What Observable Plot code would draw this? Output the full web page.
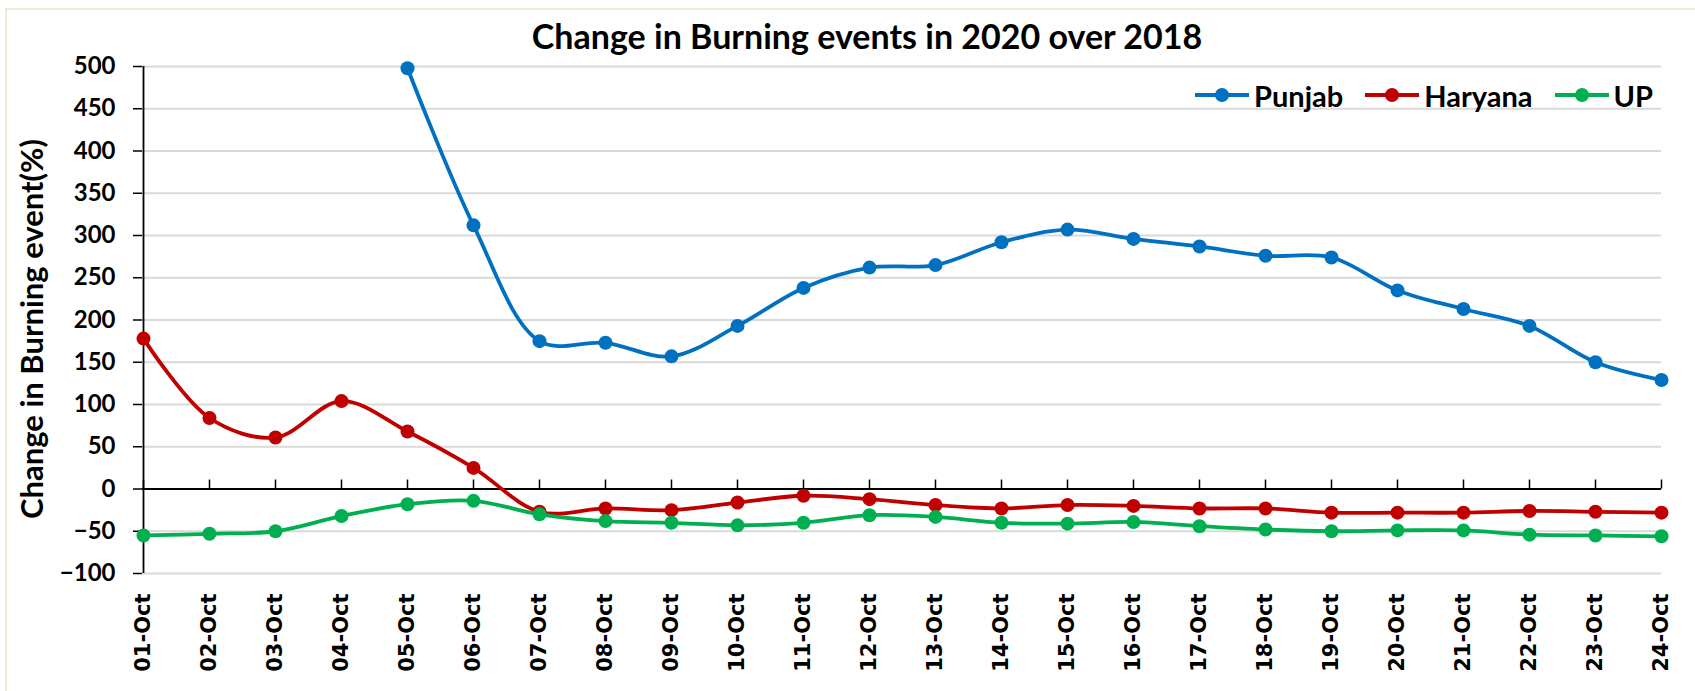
<!DOCTYPE html>
<html>
<head>
<meta charset="utf-8">
<script src="https://cdn.jsdelivr.net/npm/d3@7"></script>
<script src="https://cdn.jsdelivr.net/npm/@observablehq/plot@0.6"></script>
<style>
  html, body { margin: 0; padding: 0; background: #fff; }
  #wrap { position: relative; width: 1695px; height: 691px; overflow: hidden; background: #fff; }
  #chart { position: absolute; left: 0; top: 0; }
  #title { position: absolute; left: 0; width: 1734px; top: 15px; line-height: 42px; text-align: center;
           font-family: Lato, "Open Sans", sans-serif; font-weight: bold; font-size: 34px; color: #000; }
  #legend { position: absolute; right: 42px; top: 76px; height: 38px; display: flex; align-items: center;
            font-family: Lato, "Open Sans", sans-serif; font-weight: bold; font-size: 29px; color: #000; }
  .item { display: flex; align-items: center; margin-left: 22px; }
  .item svg { margin-right: 5px; }
  #border { position: absolute; left: 5px; top: 8px; width: 1700px; height: 700px; border: 2px solid #efebdc; pointer-events: none; }
</style>
</head>
<body>
<div id="wrap">
  <div id="chart"></div>
  <div id="title"></div>
  <div id="legend"></div>
  <div id="border"></div>
</div>
<script>
const titleText = "Change in Burning events in 2020 over 2018";
const yLabel = "Change in Burning event(%)";
const dates = ["01-Oct","02-Oct","03-Oct","04-Oct","05-Oct","06-Oct","07-Oct","08-Oct","09-Oct","10-Oct","11-Oct","12-Oct",
               "13-Oct","14-Oct","15-Oct","16-Oct","17-Oct","18-Oct","19-Oct","20-Oct","21-Oct","22-Oct","23-Oct","24-Oct"];
const seriesNames = ["Punjab", "Haryana", "UP"];
const seriesColors = ["#0070C0", "#C00000", "#00B050"];
const punjab  = [null, null, null, null, 498, 312, 175, 173, 157, 193, 238, 262, 265, 292, 307, 296, 287, 276, 274, 235, 213, 193, 150, 129];
const haryana = [178, 84, 61, 104, 68, 25, -27, -23, -25, -16, -8, -12, -19, -23, -19, -20, -23, -23, -28, -28, -28, -26, -27, -28];
const up      = [-55, -53, -50, -32, -18, -14, -30, -38, -40, -43, -40, -31, -33, -40, -41, -39, -44, -48, -50, -49, -49, -54, -55, -56];
const yTicks = [-100, -50, 0, 50, 100, 150, 200, 250, 300, 350, 400, 450, 500];

const seriesValues = [punjab, haryana, up];
const rows = [];
seriesNames.forEach((name, s) => {
  seriesValues[s].forEach((v, i) => {
    if (v !== null) rows.push({series: name, date: dates[i], value: v});
  });
});

const seriesMarks = [];
seriesNames.forEach((name) => {
  const d = rows.filter(r => r.series === name);
  seriesMarks.push(Plot.line(d, {x: "date", y: "value", stroke: "series", strokeWidth: 3.8, curve: "catmull-rom"}));
  seriesMarks.push(Plot.dot(d, {x: "date", y: "value", fill: "series", r: 7}));
});

const chart = Plot.plot({
  width: 1695,
  height: 691,
  marginLeft: 142,
  marginRight: 34,
  marginTop: 66,
  marginBottom: 118,
  style: {background: "white", color: "black", overflow: "visible"},
  x: {type: "point", domain: dates, padding: 0},
  y: {domain: [-100, 500]},
  color: {domain: seriesNames, range: seriesColors},
  marks: [
    Plot.ruleY(yTicks, {stroke: "#d9d9d9", strokeWidth: 2}),
    Plot.ruleX([dates[0]], {stroke: "black", strokeWidth: 1.8}),
    Plot.ruleY([0], {stroke: "black", strokeWidth: 2}),
    Plot.ruleX(dates, {x: d => d, y1: 0, y2: 0, insetTop: 0, insetBottom: 9, stroke: "black", strokeWidth: 1.5}),
    Plot.axisY(yTicks, {tickSize: 9, tickPadding: 18, fontFamily: "Lato", fontWeight: "bold", fontSize: 24, strokeWidth: 1.5, label: null}),
    Plot.axisX({tickSize: 0, tickPadding: 20, tickRotate: -90, fontFamily: "DejaVu Sans", fontWeight: "bold", fontSize: 21, label: null}),
    Plot.text([yLabel], {frameAnchor: "left", textAnchor: "middle", rotate: -90, dx: -109, dy: 9, fontFamily: "Lato", fontWeight: "bold", fontSize: 31, fill: "black"}),
    ...seriesMarks
  ]
});
document.getElementById("chart").appendChild(chart);
document.getElementById("title").textContent = titleText;

const legend = document.getElementById("legend");
seriesNames.forEach((name, s) => {
  const item = document.createElement("div");
  item.className = "item";
  const c = seriesColors[s];
  item.innerHTML = `<svg width="54" height="16"><line x1="0" y1="8" x2="54" y2="8" stroke="${c}" stroke-width="3.8"/><circle cx="27" cy="8" r="7" fill="${c}"/></svg><span>${name}</span>`;
  legend.appendChild(item);
});
</script>
</body>
</html>
